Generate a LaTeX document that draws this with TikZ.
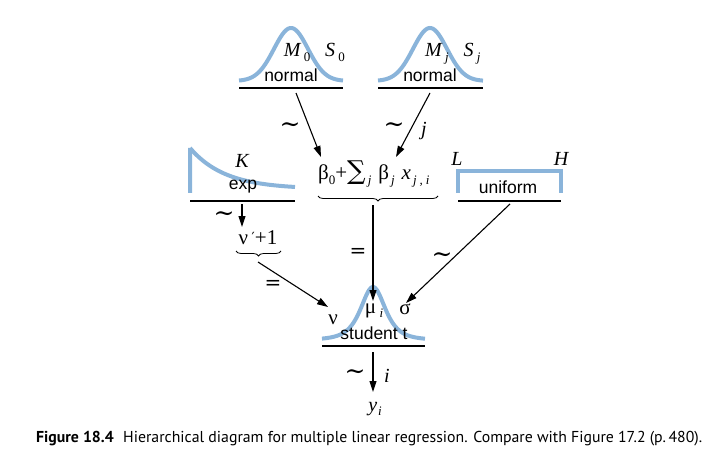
\documentclass[tikz,border=0pt]{standalone}
\usepackage{graphicx}
\usepackage{fontspec}
\setmainfont{Liberation Serif}
\newfontfamily\sansf{Liberation Sans}
\newfontfamily\capf{PT Sans}
\newfontfamily\symf{DejaVu Serif}
\usetikzlibrary{arrows.meta,decorations.pathreplacing}
\definecolor{curveblue}{RGB}{138,180,218}
% subscripts: italic / upright, small and lowered
\newcommand\sbi[1]{\raisebox{-0.22em}{\fontsize{13}{13}\selectfont\itshape #1}}
\newcommand\sbu[1]{\raisebox{-0.22em}{\fontsize{13}{13}\selectfont\upshape #1}}
\begin{document}
\begin{tikzpicture}[x=1pt,y=-1pt,
 dist/.style={curveblue,line width=4pt},
 under/.style={line width=1.3pt},
 conn/.style={line width=1.1pt,-{Triangle[length=11pt,width=7pt]}},
 lab/.style={font=\sansf\fontsize{17.5}{18}\selectfont, inner sep=0},
 par/.style={font=\fontsize{20}{21}\selectfont\itshape, inner sep=0},
 grk/.style={font=\fontsize{21}{22}\selectfont, inner sep=0},
 rel/.style={font=\symf\fontsize{20}{21}\selectfont, inner sep=0},
 tld/.style={font=\symf\fontsize{25}{25}\selectfont, inner sep=0},
 brc/.style={decorate,decoration={brace,mirror,amplitude=5pt},line width=0.8pt}
]
\useasboundingbox (0,0) rectangle (725,465);

% normal 1
\draw[dist] plot[domain=239:343,samples=80] (\x,{81-53*exp(-(\x-291)*(\x-291)/578)});
\draw[under] (239,88) coordinate (u1l) -- (343,88) coordinate (u1r);
\node[lab] (nt1) at (291,75) {normal};
\node[par,anchor=base] (m0) at (297,57) {M\,\sbu{0}};
\node[par,anchor=base] (s0) at (335,57) {S\,\sbu{0}};

% normal 2
\draw[dist] plot[domain=378:483,samples=80] (\x,{81-53*exp(-(\x-430)*(\x-430)/578)});
\draw[under] (378,88) coordinate (u2l) -- (483,88) coordinate (u2r);
\node[lab] (nt2) at (430,75) {normal};
\node[par,anchor=base] (mj) at (437,57) {M\,\sbi{j}};
\node[par,anchor=base] (sj) at (472,57) {S\,\sbi{j}};

% exp
\draw[dist] (190,193) -- (190,148) plot[domain=190:295,samples=60] (\x,{189-41*exp(-(\x-190)/35)});
\draw[under] (190,201) coordinate (u3l) -- (295,201) coordinate (u3r);
\node[lab] (nt3) at (243,187) {exp};
\node[par,anchor=base] (kk) at (242,168) {K};

% uniform
\draw[dist] (458,193) -- (458,171) -- (561,171) -- (561,193);
\draw[under] (458,201) coordinate (u4l) -- (561,201) coordinate (u4r);
\node[lab] (nt4) at (508,187) {uniform};
\node[par,anchor=base] (ll) at (457,166) {L};
\node[par,anchor=base] (hh) at (561,166) {H};

% linear predictor
\node[grk,anchor=base west] (lin) at (318,180) {β\sbu{0}+{\symf\fontsize{26}{26}\selectfont ∑}\hspace{2pt}\sbi{j}\hspace{7pt}β\hspace{2pt}\sbi{j}\hspace{7pt}\textit{x}\hspace{2pt}\sbi{j\hspace{3pt},\hspace{3pt}i}};
\draw[brc] (318,196) -- (438,196);

% nu' + 1
\node[grk,anchor=base] (nup) at (258,244) {ν\,{\symf\fontsize{14}{14}\selectfont\raisebox{0.1em}{′}}+1};
\draw[brc] (236,251) -- (281,251);

% student t
\draw[dist] plot[domain=322:425,samples=100] (\x,{340-53/((1+(\x-373)*(\x-373)/507)*(1+(\x-373)*(\x-373)/507))});
\draw[under] (322,346) coordinate (u5l) -- (425,346) coordinate (u5r);
\node[lab] (nt5) at (374,333) {student t};
\node[grk,anchor=base] (nu) at (333,324) {ν};
\node[grk,anchor=base] (mu) at (374,313) {μ\,\sbi{i}};
\node[grk,anchor=base] (sg) at (405,314) {σ};

% y_i
\node[par,anchor=base] (yi) at (375,411) {y\hspace{1pt}\sbi{i}};

% connector end points
\coordinate (a1s) at (296,93);  \coordinate (a1e) at (321,157);
\coordinate (a2s) at (430,93);  \coordinate (a2e) at (396,157);
\coordinate (a3s) at (242,204); \coordinate (a3e) at (242,227);
\coordinate (a4s) at (258,262); \coordinate (a4e) at (328,307);
\coordinate (a5s) at (373,205); \coordinate (a5e) at (373,301);
\coordinate (a6s) at (510,204); \coordinate (a6e) at (406,303);
\coordinate (a7s) at (373,352); \coordinate (a7e) at (373,392);

\draw[conn] (a1s) -- (a1e);
\draw[conn] (a2s) -- (a2e);
\draw[conn] (a3s) -- (a3e);
\draw[conn] (a4s) -- (a4e);
\draw[conn] (a5s) -- (a5e);
\draw[conn] (a6s) -- (a6e);
\draw[conn] (a7s) -- (a7e);

% relation labels
\node[tld] (r1) at (290,128) {∼};
\node[tld] (r2) at (394,128) {∼};
\node[par] (r2j) at (424,131) {j};
\node[tld] (r3) at (224,217) {∼};
\node[rel] (r4) at (273,285) {=};
\node[rel] (r5) at (358,253) {=};
\node[tld] (r6) at (442,258) {∼};
\node[tld] (r7) at (355,375) {∼};
\node[par] (r7i) at (387,376) {i};

% caption
\node[anchor=base west, inner sep=0] (cap) at (36,442) {\resizebox{666pt}{!}{\capf\fontsize{12}{14}\selectfont\textbf{Figure 18.4}\hspace{0.6em}Hierarchical diagram for multiple linear regression. Compare with Figure 17.2 (p.\,480).}};
\end{tikzpicture}
\end{document}
